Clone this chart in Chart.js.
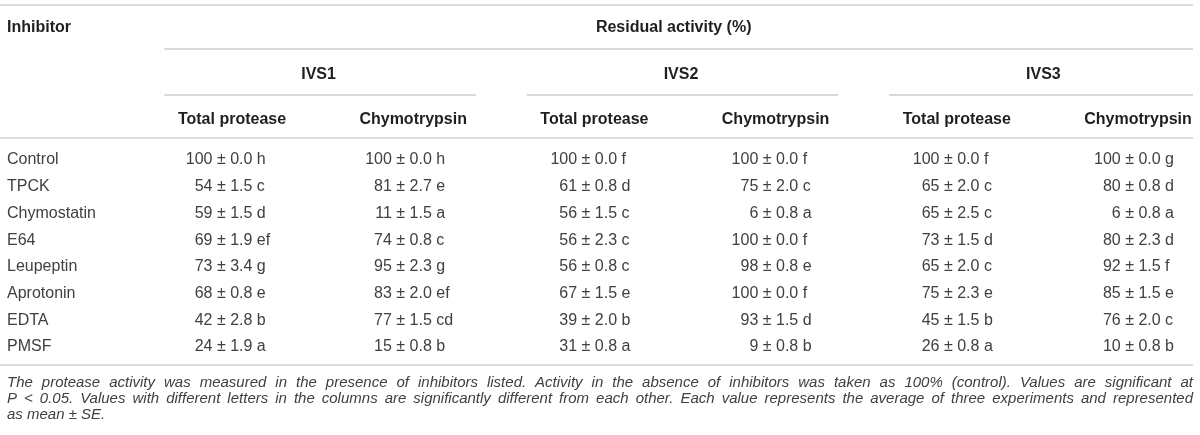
<!DOCTYPE html>
<html>
<head>
<meta charset="utf-8">
<script src="https://cdn.jsdelivr.net/npm/chart.js@4.4.1/dist/chart.umd.min.js"></script>
<style>
  html, body { margin: 0; padding: 0; background: #ffffff; }
  #wrap { width: 1200px; height: 435px; }
</style>
</head>
<body>
<div id="wrap"><canvas id="c" width="1200" height="435"></canvas></div>
<script>
// ---------------- DATA ----------------
const inhibitors = ['Control', 'TPCK', 'Chymostatin', 'E64', 'Leupeptin', 'Aprotonin', 'EDTA', 'PMSF'];
const groups = ['IVS1', 'IVS2', 'IVS3'];
const measures = ['Total protease', 'Chymotrypsin'];

const ivs1TotalMean   = [100, 54, 59, 69, 73, 68, 42, 24];
const ivs1TotalSE     = [0.0, 1.5, 1.5, 1.9, 3.4, 0.8, 2.8, 1.9];
const ivs1TotalLetter = ['h', 'c', 'd', 'ef', 'g', 'e', 'b', 'a'];

const ivs1ChymoMean   = [100, 81, 11, 74, 95, 83, 77, 15];
const ivs1ChymoSE     = [0.0, 2.7, 1.5, 0.8, 2.3, 2.0, 1.5, 0.8];
const ivs1ChymoLetter = ['h', 'e', 'a', 'c', 'g', 'ef', 'cd', 'b'];

const ivs2TotalMean   = [100, 61, 56, 56, 56, 67, 39, 31];
const ivs2TotalSE     = [0.0, 0.8, 1.5, 2.3, 0.8, 1.5, 2.0, 0.8];
const ivs2TotalLetter = ['f', 'd', 'c', 'c', 'c', 'e', 'b', 'a'];

const ivs2ChymoMean   = [100, 75, 6, 100, 98, 100, 93, 9];
const ivs2ChymoSE     = [0.0, 2.0, 0.8, 0.0, 0.8, 0.0, 1.5, 0.8];
const ivs2ChymoLetter = ['f', 'c', 'a', 'f', 'e', 'f', 'd', 'b'];

const ivs3TotalMean   = [100, 65, 65, 73, 65, 75, 45, 26];
const ivs3TotalSE     = [0.0, 2.0, 2.5, 1.5, 2.0, 2.3, 1.5, 0.8];
const ivs3TotalLetter = ['f', 'c', 'c', 'd', 'c', 'e', 'b', 'a'];

const ivs3ChymoMean   = [100, 80, 6, 80, 92, 85, 76, 10];
const ivs3ChymoSE     = [0.0, 0.8, 0.8, 2.3, 1.5, 1.5, 2.0, 0.8];
const ivs3ChymoLetter = ['g', 'd', 'a', 'd', 'f', 'e', 'c', 'b'];

const firstHeader = 'Inhibitor';
const spanHeader = 'Residual activity (%)';
const footnoteLines = [
  'The protease activity was measured in the presence of inhibitors listed. Activity in the absence of inhibitors was taken as 100% (control). Values are significant at',
  'P < 0.05. Values with different letters in the columns are significantly different from each other. Each value represents the average of three experiments and represented',
  'as mean \u00b1 SE.'
];

// ---------------- BUILD ----------------
const columns = [
  { group: 0, measure: 0, mean: ivs1TotalMean, se: ivs1TotalSE, letter: ivs1TotalLetter },
  { group: 0, measure: 1, mean: ivs1ChymoMean, se: ivs1ChymoSE, letter: ivs1ChymoLetter },
  { group: 1, measure: 0, mean: ivs2TotalMean, se: ivs2TotalSE, letter: ivs2TotalLetter },
  { group: 1, measure: 1, mean: ivs2ChymoMean, se: ivs2ChymoSE, letter: ivs2ChymoLetter },
  { group: 2, measure: 0, mean: ivs3TotalMean, se: ivs3TotalSE, letter: ivs3TotalLetter },
  { group: 2, measure: 1, mean: ivs3ChymoMean, se: ivs3ChymoSE, letter: ivs3ChymoLetter }
];
const colKeys = columns.map(c => groups[c.group] + ' ' + measures[c.measure]);

const datasets = columns.map((c, i) => ({
  label: colKeys[i],
  data: inhibitors.map(name => ({ x: colKeys[i], y: name })),
  showLine: false,
  pointRadius: 0,
  pointHoverRadius: 0
}));

// ---------------- STYLE ----------------
const FONT = '"Liberation Sans", Arial, Helvetica, sans-serif';
const headColor = '#1f1f1f';
const bodyColor = '#404040';
const noteColor = '#404040';
const lightRule = '#dddddd';
const darkRule = '#b4b4b4';
const TDY = 2;

const tablePlugin = {
  id: 'tableText',
  afterDatasetsDraw(chart) {
    const ctx = chart.ctx;
    const xs = chart.scales.x;
    const colStep = xs.getPixelForValue(1) - xs.getPixelForValue(0);
    const first = chart.getDatasetMeta(0).data;
    const y0 = first[0].y;
    const yN = first[first.length - 1].y;
    const leftX = 7;
    const rightX = 1193;

    ctx.save();
    function rule(x1, x2, y, color, w) {
      ctx.beginPath();
      ctx.strokeStyle = color;
      ctx.lineWidth = w;
      ctx.moveTo(x1, y);
      ctx.lineTo(x2, y);
      ctx.stroke();
    }
    rule(0, rightX, y0 - 153, lightRule, 2);
    rule(0, rightX, y0 - 20, lightRule, 2);
    rule(0, rightX, yN + 20, lightRule, 2);

    // group spans
    const spanStarts = [];
    groups.forEach((g, gi) => {
      const idx = columns.map((c, i) => c.group === gi ? i : -1).filter(i => i >= 0);
      const xa = xs.getPixelForValue(idx[0]);
      const xb = xs.getPixelForValue(idx[idx.length - 1]);
      const s = Math.max(0, xa - colStep / 2 + 27);
      const e = Math.min(rightX, xb + colStep / 2 - 24);
      spanStarts.push(s);
      rule(s, e, y0 - 63, darkRule, 1.2);
      ctx.fillStyle = headColor;
      ctx.font = 'bold 16px ' + FONT;
      ctx.textAlign = 'center';
      ctx.textBaseline = 'middle';
      ctx.fillText(g, (xa + xb) / 2, y0 - 85 + TDY);
    });
    rule(spanStarts[0], rightX, y0 - 109, darkRule, 1.2);

    // header texts
    ctx.fillStyle = headColor;
    ctx.font = 'bold 16px ' + FONT;
    ctx.textBaseline = 'middle';
    ctx.textAlign = 'left';
    ctx.fillText(firstHeader, leftX, y0 - 132 + TDY);
    ctx.textAlign = 'center';
    ctx.fillText(spanHeader, (spanStarts[0] + rightX) / 2 - 5, y0 - 132 + TDY);
    columns.forEach((c, i) => {
      ctx.fillText(measures[c.measure], xs.getPixelForValue(i) + 4, y0 - 40 + TDY);
    });

    // row labels
    ctx.font = '16px ' + FONT;
    ctx.fillStyle = bodyColor;
    ctx.textAlign = 'left';
    first.forEach((el, j) => ctx.fillText(inhibitors[j], leftX, el.y + TDY));

    // cells
    columns.forEach((c, i) => {
      const meta = chart.getDatasetMeta(i);
      const nums = c.mean.map(v => String(v));
      const rests = c.se.map((v, j) => ' \u00b1 ' + v.toFixed(1) + ' ' + c.letter[j]);
      const maxNum = Math.max(...nums.map(t => ctx.measureText(t).width));
      const maxRest = Math.max(...rests.map(t => ctx.measureText(t).width));
      meta.data.forEach((el, j) => {
        const anchor = el.x - (maxNum + maxRest) / 2 + maxNum;
        ctx.textAlign = 'right';
        ctx.fillText(nums[j], anchor, el.y + TDY);
        ctx.textAlign = 'left';
        ctx.fillText(rests[j], anchor, el.y + TDY);
      });
    });

    // footnote
    ctx.font = 'italic 15px ' + FONT;
    ctx.fillStyle = noteColor;
    ctx.textAlign = 'left';
    footnoteLines.forEach((line, k) => {
      const y = yN + 38 + k * 16;
      if (k === footnoteLines.length - 1) {
        ctx.fillText(line, leftX, y);
        return;
      }
      const words = line.split(' ');
      const widths = words.map(w => ctx.measureText(w).width);
      const total = widths.reduce((a, b) => a + b, 0);
      const gap = (rightX - leftX - total) / (words.length - 1);
      let x = leftX;
      words.forEach((w, wi) => {
        ctx.fillText(w, x, y);
        x += widths[wi] + gap;
      });
    });
    ctx.restore();
  }
};

new Chart(document.getElementById('c').getContext('2d'), {
  type: 'line',
  data: { datasets },
  options: {
    responsive: false,
    animation: false,
    events: [],
    layout: { padding: { left: 228, right: 66, top: 158, bottom: 90 } },
    scales: {
      x: { type: 'category', labels: colKeys, offset: false, display: false },
      y: { type: 'category', labels: inhibitors, offset: false, display: false }
    },
    plugins: {
      legend: { display: false },
      tooltip: { enabled: false }
    }
  },
  plugins: [tablePlugin]
});
</script>
</body>
</html>
